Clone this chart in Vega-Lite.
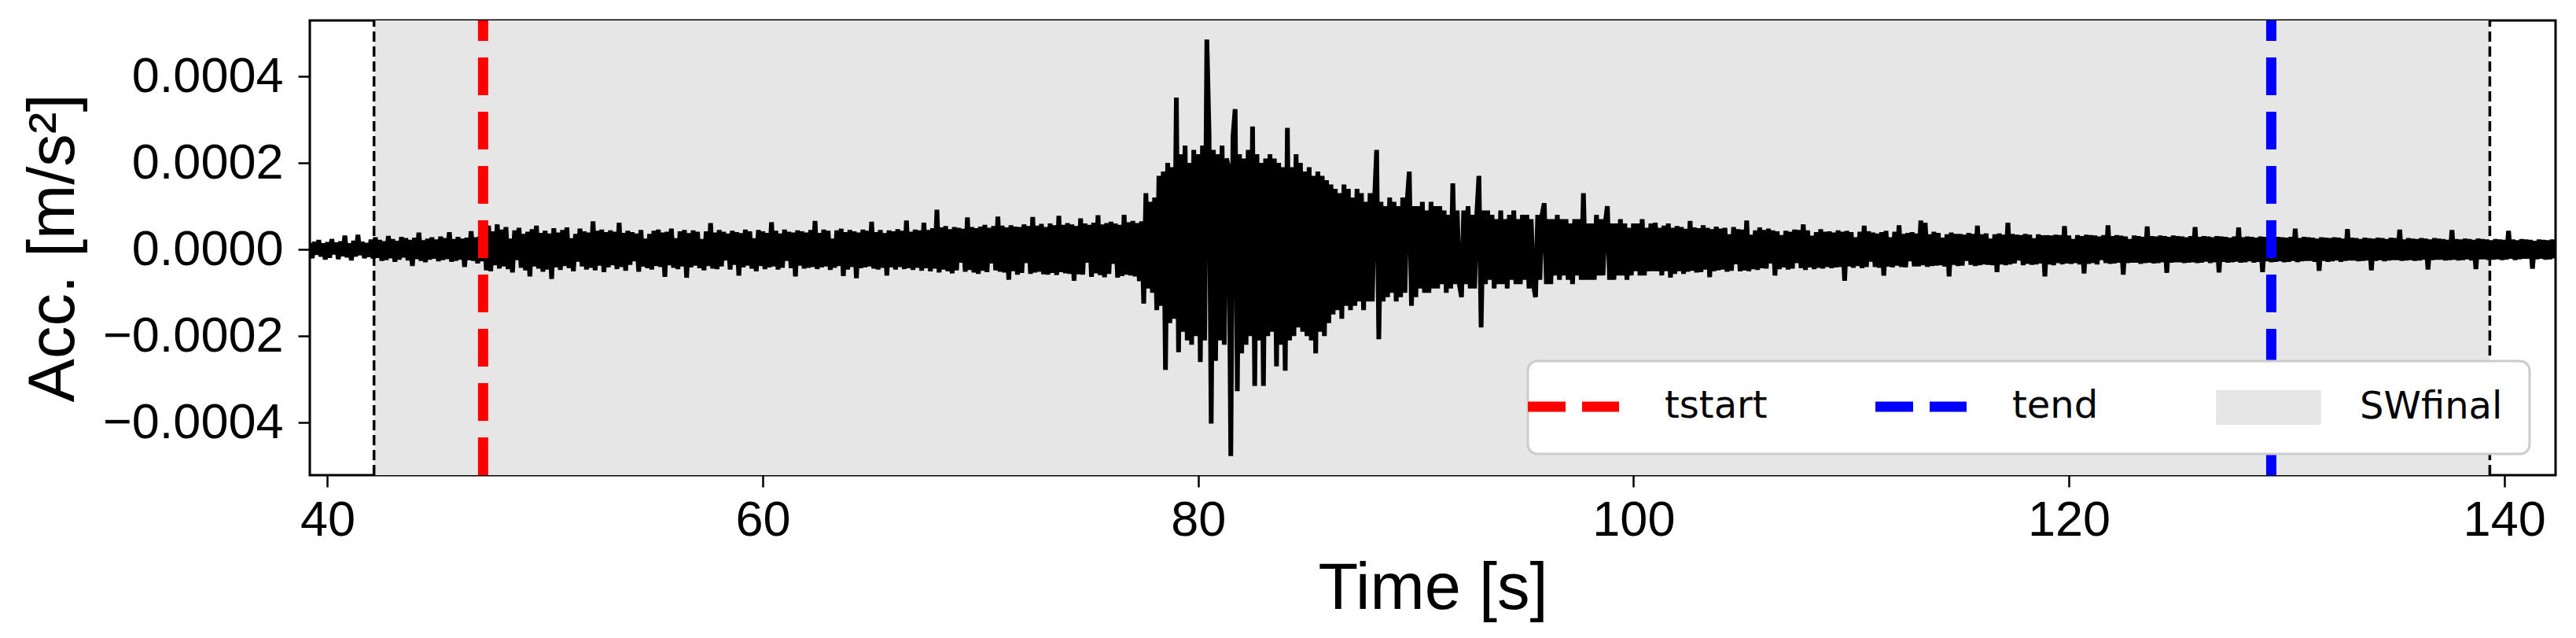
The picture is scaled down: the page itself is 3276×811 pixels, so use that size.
{
"$schema":"https://vega.github.io/schema/vega-lite/v6.json",
"width":2856,"height":578,
"autosize":{"type":"none"},
"padding":{"left":394,"top":26,"right":26,"bottom":207},
"background":"white",
"config":{
 "view":{"stroke":"black","strokeWidth":3},
 "axis":{"grid":false,"domain":false,"tickSize":15,"tickWidth":2.5,"tickColor":"black","labelColor":"black","labelFont":"Liberation Sans","labelFontSize":63,"labelLimit":400,"titleFont":"Liberation Sans","titleFontSize":83,"titleFontWeight":"normal","titleColor":"black","labelFlush":false},
 "axisX":{"labelPadding":11,"titlePadding":14},
 "axisY":{"labelPadding":19,"titleX":-301,"titleY":289,"titleAngle":-90,"titleAlign":"center","titleBaseline":"alphabetic"}
},
"datasets":{
 "span":[{"t":42.14,"t2":139.34,"lab":"SWfinal"}],
 "lines":[{"t":47.15,"lab":"tstart"},{"t":129.3,"lab":"tend"}],
 "wave":[
{"t":39.2,"a":1.5e-5},{"t":39.3,"a":-2e-5},{"t":39.4,"a":1.8e-5},{"t":39.5,"a":-1.2e-5},{"t":39.6,"a":2.2e-5},{"t":39.7,"a":-1.6e-5},{"t":39.8,"a":1.4e-5},{"t":39.9,"a":-2.3e-5},
{"t":40.0,"a":1.7e-5},{"t":40.1,"a":-1.9e-5},{"t":40.2,"a":2.4e-5},{"t":40.3,"a":-1.1e-5},{"t":40.4,"a":1.6e-5},{"t":40.5,"a":-2.2e-5},{"t":40.6,"a":1.9e-5},{"t":40.7,"a":-1.5e-5},{"t":40.8,"a":3.2e-5},{"t":40.9,"a":-1.8e-5},
{"t":41.0,"a":1.4e-5},{"t":41.1,"a":-2.5e-5},{"t":41.2,"a":2e-5},{"t":41.3,"a":-1.6e-5},{"t":41.4,"a":3.4e-5},{"t":41.5,"a":-1.3e-5},{"t":41.6,"a":1.8e-5},{"t":41.7,"a":-2e-5},{"t":41.8,"a":1.5e-5},{"t":41.9,"a":-1.7e-5},
{"t":42.0,"a":2.3e-5},{"t":42.1,"a":-2.1e-5},{"t":42.2,"a":2.8e-5},{"t":42.3,"a":-1.9e-5},{"t":42.4,"a":2.2e-5},{"t":42.5,"a":-2.6e-5},{"t":42.6,"a":1.9e-5},{"t":42.7,"a":-2.4e-5},{"t":42.8,"a":3.1e-5},{"t":42.9,"a":-2e-5},
{"t":43.0,"a":2.4e-5},{"t":43.1,"a":-2.8e-5},{"t":43.2,"a":2e-5},{"t":43.3,"a":-2.3e-5},{"t":43.4,"a":2.9e-5},{"t":43.5,"a":-1.8e-5},{"t":43.6,"a":2.6e-5},{"t":43.7,"a":-2.5e-5},{"t":43.8,"a":2.2e-5},{"t":43.9,"a":-3.8e-5},
{"t":44.0,"a":2.7e-5},{"t":44.1,"a":-2.2e-5},{"t":44.2,"a":3.9e-5},{"t":44.3,"a":-2.6e-5},{"t":44.4,"a":2.1e-5},{"t":44.5,"a":-2.9e-5},{"t":44.6,"a":2.5e-5},{"t":44.7,"a":-2.3e-5},{"t":44.8,"a":2.8e-5},{"t":44.9,"a":-2.1e-5},
{"t":45.0,"a":2.3e-5},{"t":45.1,"a":-2.7e-5},{"t":45.2,"a":3e-5},{"t":45.3,"a":-2.4e-5},{"t":45.4,"a":2.6e-5},{"t":45.5,"a":-2.2e-5},{"t":45.6,"a":4e-5},{"t":45.7,"a":-2.8e-5},{"t":45.8,"a":2.4e-5},{"t":45.9,"a":-2.6e-5},
{"t":46.0,"a":2.9e-5},{"t":46.1,"a":-2.3e-5},{"t":46.2,"a":2.5e-5},{"t":46.3,"a":-4e-5},{"t":46.4,"a":2.7e-5},{"t":46.5,"a":-2.4e-5},{"t":46.6,"a":4.2e-5},{"t":46.7,"a":-2.6e-5},{"t":46.8,"a":2.8e-5},{"t":46.9,"a":-3.2e-5},
{"t":47.0,"a":3e-5},{"t":47.1,"a":-2.7e-5},{"t":47.2,"a":6.2e-5},{"t":47.3,"a":-4.8e-5},{"t":47.4,"a":5.5e-5},{"t":47.5,"a":-5e-5},{"t":47.6,"a":4.2e-5},{"t":47.7,"a":-3.6e-5},{"t":47.8,"a":5.8e-5},{"t":47.9,"a":-4.4e-5},
{"t":48.0,"a":4.6e-5},{"t":48.1,"a":-3.9e-5},{"t":48.2,"a":5.2e-5},{"t":48.3,"a":-4.5e-5},{"t":48.4,"a":2.5e-5},{"t":48.5,"a":-5.3e-5},{"t":48.6,"a":4.4e-5},{"t":48.7,"a":-2.4e-5},{"t":48.8,"a":5e-5},{"t":48.9,"a":-4.2e-5},
{"t":49.0,"a":3.6e-5},{"t":49.1,"a":-4.8e-5},{"t":49.2,"a":4.1e-5},{"t":49.3,"a":-6.2e-5},{"t":49.4,"a":4.7e-5},{"t":49.5,"a":-3.9e-5},{"t":49.6,"a":5.5e-5},{"t":49.7,"a":-4.4e-5},{"t":49.8,"a":3.8e-5},{"t":49.9,"a":-5.1e-5},
{"t":50.0,"a":4.3e-5},{"t":50.1,"a":-4.6e-5},{"t":50.2,"a":3.7e-5},{"t":50.3,"a":-6.8e-5},{"t":50.4,"a":4.9e-5},{"t":50.5,"a":-4.1e-5},{"t":50.6,"a":3.9e-5},{"t":50.7,"a":-4.7e-5},{"t":50.8,"a":4.5e-5},{"t":50.9,"a":-3.8e-5},
{"t":51.0,"a":5.1e-5},{"t":51.1,"a":-4.3e-5},{"t":51.2,"a":2.6e-5},{"t":51.3,"a":-5e-5},{"t":51.4,"a":3.6e-5},{"t":51.5,"a":-2.8e-5},{"t":51.6,"a":4.8e-5},{"t":51.7,"a":-3.9e-5},{"t":51.8,"a":4.2e-5},{"t":51.9,"a":-4.6e-5},
{"t":52.0,"a":3.9e-5},{"t":52.1,"a":-4.2e-5},{"t":52.2,"a":6.5e-5},{"t":52.3,"a":-4.8e-5},{"t":52.4,"a":4.3e-5},{"t":52.5,"a":-3.7e-5},{"t":52.6,"a":4.6e-5},{"t":52.7,"a":-5.2e-5},{"t":52.8,"a":4e-5},{"t":52.9,"a":-4.1e-5},
{"t":53.0,"a":4.4e-5},{"t":53.1,"a":-3.6e-5},{"t":53.2,"a":4.1e-5},{"t":53.3,"a":-4.5e-5},{"t":53.4,"a":6.2e-5},{"t":53.5,"a":-4e-5},{"t":53.6,"a":3.8e-5},{"t":53.7,"a":-4.9e-5},{"t":53.8,"a":4.3e-5},{"t":53.9,"a":-3.5e-5},
{"t":54.0,"a":4e-5},{"t":54.1,"a":-2.7e-5},{"t":54.2,"a":3.7e-5},{"t":54.3,"a":-5.1e-5},{"t":54.4,"a":4.5e-5},{"t":54.5,"a":-3.9e-5},{"t":54.6,"a":2.5e-5},{"t":54.7,"a":-4.3e-5},{"t":54.8,"a":3.6e-5},{"t":54.9,"a":-4.6e-5},
{"t":55.0,"a":4.3e-5},{"t":55.1,"a":-3.8e-5},{"t":55.2,"a":4.6e-5},{"t":55.3,"a":-4e-5},{"t":55.4,"a":3.9e-5},{"t":55.5,"a":-6.3e-5},{"t":55.6,"a":4.1e-5},{"t":55.7,"a":-3.6e-5},{"t":55.8,"a":4.8e-5},{"t":55.9,"a":-4.2e-5},
{"t":56.0,"a":2.6e-5},{"t":56.1,"a":-4.5e-5},{"t":56.2,"a":4.2e-5},{"t":56.3,"a":-3.9e-5},{"t":56.4,"a":4.5e-5},{"t":56.5,"a":-6.5e-5},{"t":56.6,"a":3.8e-5},{"t":56.7,"a":-4.1e-5},{"t":56.8,"a":4.4e-5},{"t":56.9,"a":-3.7e-5},
{"t":57.0,"a":4.1e-5},{"t":57.1,"a":-4.3e-5},{"t":57.2,"a":2.4e-5},{"t":57.3,"a":-4.8e-5},{"t":57.4,"a":4.2e-5},{"t":57.5,"a":-3.8e-5},{"t":57.6,"a":6.1e-5},{"t":57.7,"a":-4.4e-5},{"t":57.8,"a":3.9e-5},{"t":57.9,"a":-4.5e-5},
{"t":58.0,"a":4.5e-5},{"t":58.1,"a":-3.9e-5},{"t":58.2,"a":4.1e-5},{"t":58.3,"a":-2.5e-5},{"t":58.4,"a":3.7e-5},{"t":58.5,"a":-4.6e-5},{"t":58.6,"a":4.3e-5},{"t":58.7,"a":-3.5e-5},{"t":58.8,"a":4e-5},{"t":58.9,"a":-6e-5},
{"t":59.0,"a":3.8e-5},{"t":59.1,"a":-4.1e-5},{"t":59.2,"a":4.6e-5},{"t":59.3,"a":-3.7e-5},{"t":59.4,"a":4.2e-5},{"t":59.5,"a":-4.4e-5},{"t":59.6,"a":2.6e-5},{"t":59.7,"a":-5e-5},{"t":59.8,"a":4.5e-5},{"t":59.9,"a":-3.8e-5},
{"t":60.0,"a":4.2e-5},{"t":60.1,"a":-4.5e-5},{"t":60.2,"a":3.8e-5},{"t":60.3,"a":-4.1e-5},{"t":60.4,"a":6.3e-5},{"t":60.5,"a":-3.9e-5},{"t":60.6,"a":4.3e-5},{"t":60.7,"a":-4.6e-5},{"t":60.8,"a":3.7e-5},{"t":60.9,"a":-4.2e-5},
{"t":61.0,"a":4.6e-5},{"t":61.1,"a":-2.6e-5},{"t":61.2,"a":4.1e-5},{"t":61.3,"a":-4.3e-5},{"t":61.4,"a":3.9e-5},{"t":61.5,"a":-6.2e-5},{"t":61.6,"a":4.4e-5},{"t":61.7,"a":-3.7e-5},{"t":61.8,"a":4.2e-5},{"t":61.9,"a":-4.4e-5},
{"t":62.0,"a":3.9e-5},{"t":62.1,"a":-4.2e-5},{"t":62.2,"a":4.5e-5},{"t":62.3,"a":-4e-5},{"t":62.4,"a":6.6e-5},{"t":62.5,"a":-4.5e-5},{"t":62.6,"a":3.8e-5},{"t":62.7,"a":-4.1e-5},{"t":62.8,"a":4.6e-5},{"t":62.9,"a":-3.9e-5},
{"t":63.0,"a":4.3e-5},{"t":63.1,"a":-4.7e-5},{"t":63.2,"a":2.5e-5},{"t":63.3,"a":-4.2e-5},{"t":63.4,"a":4.4e-5},{"t":63.5,"a":-3.8e-5},{"t":63.6,"a":4.8e-5},{"t":63.7,"a":-6.1e-5},{"t":63.8,"a":4e-5},{"t":63.9,"a":-4.6e-5},
{"t":64.0,"a":4.5e-5},{"t":64.1,"a":-4e-5},{"t":64.2,"a":4.2e-5},{"t":64.3,"a":-6.6e-5},{"t":64.4,"a":3.9e-5},{"t":64.5,"a":-4.3e-5},{"t":64.6,"a":4.6e-5},{"t":64.7,"a":-4.1e-5},{"t":64.8,"a":4.3e-5},{"t":64.9,"a":-3.9e-5},
{"t":65.0,"a":6.4e-5},{"t":65.1,"a":-4.4e-5},{"t":65.2,"a":4e-5},{"t":65.3,"a":-4.6e-5},{"t":65.4,"a":4.5e-5},{"t":65.5,"a":-4.2e-5},{"t":65.6,"a":3.8e-5},{"t":65.7,"a":-6e-5},{"t":65.8,"a":4.4e-5},{"t":65.9,"a":-4.1e-5},
{"t":66.0,"a":4.2e-5},{"t":66.1,"a":-4.6e-5},{"t":66.2,"a":4.7e-5},{"t":66.3,"a":-4e-5},{"t":66.4,"a":4.3e-5},{"t":66.5,"a":-4.5e-5},{"t":66.6,"a":6.7e-5},{"t":66.7,"a":-4.3e-5},{"t":66.8,"a":4.1e-5},{"t":66.9,"a":-4.7e-5},
{"t":67.0,"a":4.6e-5},{"t":67.1,"a":-4.2e-5},{"t":67.2,"a":4.4e-5},{"t":67.3,"a":-4.9e-5},{"t":67.4,"a":6.2e-5},{"t":67.5,"a":-4.3e-5},{"t":67.6,"a":4.5e-5},{"t":67.7,"a":-5e-5},{"t":67.8,"a":4.9e-5},{"t":67.9,"a":-4.4e-5},
{"t":68.0,"a":9.2e-5},{"t":68.1,"a":-5.3e-5},{"t":68.2,"a":5.1e-5},{"t":68.3,"a":-4.6e-5},{"t":68.4,"a":5.4e-5},{"t":68.5,"a":-5e-5},{"t":68.6,"a":4.7e-5},{"t":68.7,"a":-5.5e-5},{"t":68.8,"a":5.2e-5},{"t":68.9,"a":-4.8e-5},
{"t":69.0,"a":5e-5},{"t":69.1,"a":-3e-5},{"t":69.2,"a":4.8e-5},{"t":69.3,"a":-5.1e-5},{"t":69.4,"a":7.4e-5},{"t":69.5,"a":-4.7e-5},{"t":69.6,"a":5.2e-5},{"t":69.7,"a":-5.3e-5},{"t":69.8,"a":4.9e-5},{"t":69.9,"a":-5.6e-5},
{"t":70.0,"a":5.3e-5},{"t":70.1,"a":-4.9e-5},{"t":70.2,"a":5.7e-5},{"t":70.3,"a":-5.2e-5},{"t":70.4,"a":5e-5},{"t":70.5,"a":-3.2e-5},{"t":70.6,"a":5.4e-5},{"t":70.7,"a":-4.8e-5},{"t":70.8,"a":7.6e-5},{"t":70.9,"a":-5.1e-5},
{"t":71.0,"a":5.5e-5},{"t":71.1,"a":-5.3e-5},{"t":71.2,"a":5.1e-5},{"t":71.3,"a":-7e-5},{"t":71.4,"a":5.6e-5},{"t":71.5,"a":-5e-5},{"t":71.6,"a":5.3e-5},{"t":71.7,"a":-5.8e-5},{"t":71.8,"a":5.2e-5},{"t":71.9,"a":-5.4e-5},
{"t":72.0,"a":5.8e-5},{"t":72.1,"a":-3.1e-5},{"t":72.2,"a":5.4e-5},{"t":72.3,"a":-5.6e-5},{"t":72.4,"a":7.5e-5},{"t":72.5,"a":-5.3e-5},{"t":72.6,"a":5.5e-5},{"t":72.7,"a":-5.1e-5},{"t":72.8,"a":5.9e-5},{"t":72.9,"a":-5.7e-5},
{"t":73.0,"a":5.2e-5},{"t":73.1,"a":-5.8e-5},{"t":73.2,"a":6e-5},{"t":73.3,"a":-5.4e-5},{"t":73.4,"a":5.6e-5},{"t":73.5,"a":-5.9e-5},{"t":73.6,"a":7.8e-5},{"t":73.7,"a":-5.2e-5},{"t":73.8,"a":5.7e-5},{"t":73.9,"a":-5.5e-5},
{"t":74.0,"a":6.1e-5},{"t":74.1,"a":-5.6e-5},{"t":74.2,"a":5.8e-5},{"t":74.3,"a":-7.2e-5},{"t":74.4,"a":5.4e-5},{"t":74.5,"a":-5.7e-5},{"t":74.6,"a":7.2e-5},{"t":74.7,"a":-5.8e-5},{"t":74.8,"a":6e-5},{"t":74.9,"a":-3e-5},
{"t":75.0,"a":5.7e-5},{"t":75.1,"a":-6.3e-5},{"t":75.2,"a":6.2e-5},{"t":75.3,"a":-5.5e-5},{"t":75.4,"a":7.9e-5},{"t":75.5,"a":-5.9e-5},{"t":75.6,"a":5.8e-5},{"t":75.7,"a":-6.4e-5},{"t":75.8,"a":6.1e-5},{"t":75.9,"a":-5.6e-5},
{"t":76.0,"a":6.4e-5},{"t":76.1,"a":-3.3e-5},{"t":76.2,"a":6e-5},{"t":76.3,"a":-6.5e-5},{"t":76.4,"a":5.7e-5},{"t":76.5,"a":-6.1e-5},{"t":76.6,"a":8e-5},{"t":76.7,"a":-5.8e-5},{"t":76.8,"a":6.3e-5},{"t":76.9,"a":-6e-5},
{"t":77.0,"a":6.6e-5},{"t":77.1,"a":-6.2e-5},{"t":77.2,"a":6.1e-5},{"t":77.3,"a":-7.3e-5},{"t":77.4,"a":6.5e-5},{"t":77.5,"a":-12.5e-5},{"t":77.6,"a":13e-5},{"t":77.7,"a":-9e-5},{"t":77.8,"a":11e-5},{"t":77.9,"a":-10e-5},
{"t":78.0,"a":12e-5},{"t":78.1,"a":-14e-5},{"t":78.2,"a":17e-5},{"t":78.3,"a":-13e-5},{"t":78.4,"a":18e-5},{"t":78.5,"a":-27.8e-5},{"t":78.6,"a":20e-5},{"t":78.7,"a":-17e-5},{"t":78.8,"a":19e-5},{"t":78.9,"a":-16e-5},
{"t":79.0,"a":35.1e-5},{"t":79.1,"a":-23.7e-5},{"t":79.2,"a":22e-5},{"t":79.3,"a":-19e-5},{"t":79.4,"a":24e-5},{"t":79.5,"a":-21e-5},{"t":79.6,"a":20e-5},{"t":79.7,"a":-22e-5},{"t":79.8,"a":23e-5},{"t":79.9,"a":-20e-5},
{"t":80.0,"a":22e-5},{"t":80.1,"a":-26e-5},{"t":80.2,"a":24e-5},{"t":80.3,"a":-21e-5},{"t":80.4,"a":48.5e-5},{"t":80.5,"a":27e-5},{"t":80.6,"a":-40.2e-5},{"t":80.7,"a":23e-5},{"t":80.8,"a":-25.7e-5},{"t":80.9,"a":22e-5},
{"t":81.0,"a":-21e-5},{"t":81.1,"a":24e-5},{"t":81.2,"a":-22e-5},{"t":81.3,"a":21e-5},{"t":81.4,"a":19e-5},{"t":81.5,"a":-47.7e-5},{"t":81.6,"a":26e-5},{"t":81.7,"a":32.4e-5},{"t":81.8,"a":-32.7e-5},{"t":81.9,"a":22e-5},
{"t":82.0,"a":-24e-5},{"t":82.1,"a":21e-5},{"t":82.2,"a":-22e-5},{"t":82.3,"a":23e-5},{"t":82.4,"a":-20e-5},{"t":82.5,"a":28.4e-5},{"t":82.6,"a":-31.5e-5},{"t":82.7,"a":22e-5},{"t":82.8,"a":-21e-5},{"t":82.9,"a":20e-5},
{"t":83.0,"a":-31.5e-5},{"t":83.1,"a":21e-5},{"t":83.2,"a":-20e-5},{"t":83.3,"a":22e-5},{"t":83.4,"a":-19e-5},{"t":83.5,"a":21e-5},{"t":83.6,"a":-27e-5},{"t":83.7,"a":20e-5},{"t":83.8,"a":-22e-5},{"t":83.9,"a":19e-5},
{"t":84.0,"a":-28e-5},{"t":84.1,"a":28.1e-5},{"t":84.2,"a":-21e-5},{"t":84.3,"a":19e-5},{"t":84.4,"a":-20e-5},{"t":84.5,"a":22e-5},{"t":84.6,"a":-18e-5},{"t":84.7,"a":20e-5},{"t":84.8,"a":-19e-5},{"t":84.9,"a":18e-5},
{"t":85.0,"a":-20e-5},{"t":85.1,"a":19e-5},{"t":85.2,"a":-21e-5},{"t":85.3,"a":17e-5},{"t":85.4,"a":-24e-5},{"t":85.5,"a":18e-5},{"t":85.6,"a":-19e-5},{"t":85.7,"a":17e-5},{"t":85.8,"a":-20e-5},{"t":85.9,"a":16e-5},
{"t":86.0,"a":-17e-5},{"t":86.1,"a":15e-5},{"t":86.2,"a":-15e-5},{"t":86.3,"a":14e-5},{"t":86.4,"a":-14e-5},{"t":86.5,"a":13e-5},{"t":86.6,"a":-16e-5},{"t":86.7,"a":15e-5},{"t":86.8,"a":-13e-5},{"t":86.9,"a":14e-5},
{"t":87.0,"a":-14e-5},{"t":87.1,"a":12e-5},{"t":87.2,"a":-13e-5},{"t":87.3,"a":14e-5},{"t":87.4,"a":-12e-5},{"t":87.5,"a":13e-5},{"t":87.6,"a":-14e-5},{"t":87.7,"a":11e-5},{"t":87.8,"a":-12e-5},{"t":87.9,"a":13e-5},
{"t":88.0,"a":-12e-5},{"t":88.1,"a":11e-5},{"t":88.2,"a":23e-5},{"t":88.3,"a":-20.7e-5},{"t":88.4,"a":11e-5},{"t":88.5,"a":-12e-5},{"t":88.6,"a":10e-5},{"t":88.7,"a":-11e-5},{"t":88.8,"a":12e-5},{"t":88.9,"a":-10e-5},
{"t":89.0,"a":11e-5},{"t":89.1,"a":-12e-5},{"t":89.2,"a":10e-5},{"t":89.3,"a":-11e-5},{"t":89.4,"a":12e-5},{"t":89.5,"a":-10e-5},{"t":89.6,"a":11e-5},{"t":89.7,"a":18e-5},{"t":89.8,"a":-13e-5},{"t":89.9,"a":10e-5},
{"t":90.0,"a":-11e-5},{"t":90.1,"a":10e-5},{"t":90.2,"a":-9e-5},{"t":90.3,"a":11e-5},{"t":90.4,"a":-10e-5},{"t":90.5,"a":9e-5},{"t":90.6,"a":-10e-5},{"t":90.7,"a":11e-5},{"t":90.8,"a":-9e-5},{"t":90.9,"a":10e-5},
{"t":91.0,"a":-9e-5},{"t":91.1,"a":10e-5},{"t":91.2,"a":-8e-5},{"t":91.3,"a":9e-5},{"t":91.4,"a":-10e-5},{"t":91.5,"a":8e-5},{"t":91.6,"a":-9e-5},{"t":91.7,"a":15.3e-5},{"t":91.8,"a":-8e-5},{"t":91.9,"a":9e-5},
{"t":92.0,"a":-8e-5},{"t":92.1,"a":-11e-5},{"t":92.2,"a":9e-5},{"t":92.3,"a":-8e-5},{"t":92.4,"a":10e-5},{"t":92.5,"a":-9e-5},{"t":92.6,"a":8e-5},{"t":92.7,"a":-9e-5},{"t":92.8,"a":8e-5},{"t":92.9,"a":17e-5},
{"t":93.0,"a":-18e-5},{"t":93.1,"a":9e-5},{"t":93.2,"a":-8e-5},{"t":93.3,"a":9e-5},{"t":93.4,"a":-7e-5},{"t":93.5,"a":8e-5},{"t":93.6,"a":-9e-5},{"t":93.7,"a":7e-5},{"t":93.8,"a":-8e-5},{"t":93.9,"a":9e-5},
{"t":94.0,"a":-8e-5},{"t":94.1,"a":7e-5},{"t":94.2,"a":-9e-5},{"t":94.3,"a":8e-5},{"t":94.4,"a":-7e-5},{"t":94.5,"a":9e-5},{"t":94.6,"a":-8e-5},{"t":94.7,"a":7e-5},{"t":94.8,"a":-8e-5},{"t":94.9,"a":8e-5},
{"t":95.0,"a":-7e-5},{"t":95.1,"a":8e-5},{"t":95.2,"a":-9e-5},{"t":95.3,"a":7e-5},{"t":95.4,"a":-8e-5},{"t":95.5,"a":-11e-5},{"t":95.6,"a":8e-5},{"t":95.7,"a":-7e-5},{"t":95.8,"a":8e-5},{"t":95.9,"a":10.7e-5},
{"t":96.0,"a":-8e-5},{"t":96.1,"a":7e-5},{"t":96.2,"a":-8e-5},{"t":96.3,"a":7e-5},{"t":96.4,"a":-6e-5},{"t":96.5,"a":8e-5},{"t":96.6,"a":-7e-5},{"t":96.7,"a":7e-5},{"t":96.8,"a":-6e-5},{"t":96.9,"a":7e-5},
{"t":97.0,"a":-7e-5},{"t":97.1,"a":6e-5},{"t":97.2,"a":-8e-5},{"t":97.3,"a":7e-5},{"t":97.4,"a":-6e-5},{"t":97.5,"a":7e-5},{"t":97.6,"a":-7e-5},{"t":97.7,"a":13e-5},{"t":97.8,"a":-7e-5},{"t":97.9,"a":6e-5},
{"t":98.0,"a":-7e-5},{"t":98.1,"a":6e-5},{"t":98.2,"a":-7e-5},{"t":98.3,"a":8e-5},{"t":98.4,"a":-6e-5},{"t":98.5,"a":7e-5},{"t":98.6,"a":-6e-5},{"t":98.7,"a":6e-5},{"t":98.8,"a":10e-5},{"t":98.9,"a":-7e-5},
{"t":99.0,"a":6e-5},{"t":99.1,"a":-7e-5},{"t":99.2,"a":6e-5},{"t":99.3,"a":-6e-5},{"t":99.4,"a":7e-5},{"t":99.5,"a":-6e-5},{"t":99.6,"a":6e-5},{"t":99.7,"a":-7e-5},{"t":99.8,"a":5e-5},{"t":99.9,"a":-6e-5},
{"t":100.0,"a":6e-5},{"t":100.1,"a":-5e-5},{"t":100.2,"a":6e-5},{"t":100.3,"a":-6e-5},{"t":100.4,"a":7e-5},{"t":100.5,"a":-6e-5},{"t":100.6,"a":5e-5},{"t":100.7,"a":-5e-5},{"t":100.8,"a":6e-5},{"t":100.9,"a":-5e-5},
{"t":101.0,"a":6.2e-5},{"t":101.1,"a":-5e-5},{"t":101.2,"a":5e-5},{"t":101.3,"a":-6e-5},{"t":101.4,"a":5.5e-5},{"t":101.5,"a":-5e-5},{"t":101.6,"a":6e-5},{"t":101.7,"a":-6.5e-5},{"t":101.8,"a":5e-5},{"t":101.9,"a":-5.6e-5},
{"t":102.0,"a":5.4e-5},{"t":102.1,"a":-5e-5},{"t":102.2,"a":5.2e-5},{"t":102.3,"a":-5.6e-5},{"t":102.4,"a":4.8e-5},{"t":102.5,"a":-5.1e-5},{"t":102.6,"a":6.6e-5},{"t":102.7,"a":-4.9e-5},{"t":102.8,"a":5.1e-5},{"t":102.9,"a":-5.3e-5},
{"t":103.0,"a":4.9e-5},{"t":103.1,"a":-5.2e-5},{"t":103.2,"a":5.6e-5},{"t":103.3,"a":-4.6e-5},{"t":103.4,"a":5e-5},{"t":103.5,"a":-6.4e-5},{"t":103.6,"a":4.7e-5},{"t":103.7,"a":-5e-5},{"t":103.8,"a":5.3e-5},{"t":103.9,"a":-4.8e-5},
{"t":104.0,"a":4.8e-5},{"t":104.1,"a":-4.6e-5},{"t":104.2,"a":5e-5},{"t":104.3,"a":-5.1e-5},{"t":104.4,"a":3.5e-5},{"t":104.5,"a":-4.9e-5},{"t":104.6,"a":5.2e-5},{"t":104.7,"a":-3.4e-5},{"t":104.8,"a":4.7e-5},{"t":104.9,"a":-5e-5},
{"t":105.0,"a":4.6e-5},{"t":105.1,"a":-4.8e-5},{"t":105.2,"a":6.7e-5},{"t":105.3,"a":-5e-5},{"t":105.4,"a":3.4e-5},{"t":105.5,"a":-4.5e-5},{"t":105.6,"a":4.4e-5},{"t":105.7,"a":-4.7e-5},{"t":105.8,"a":5.1e-5},{"t":105.9,"a":-4.3e-5},
{"t":106.0,"a":4.5e-5},{"t":106.1,"a":-4.4e-5},{"t":106.2,"a":4.8e-5},{"t":106.3,"a":-3.2e-5},{"t":106.4,"a":4.4e-5},{"t":106.5,"a":-6e-5},{"t":106.6,"a":4.2e-5},{"t":106.7,"a":-4.5e-5},{"t":106.8,"a":3.3e-5},{"t":106.9,"a":-4.1e-5},
{"t":107.0,"a":4.3e-5},{"t":107.1,"a":-4.6e-5},{"t":107.2,"a":4.1e-5},{"t":107.3,"a":-4.4e-5},{"t":107.4,"a":4.6e-5},{"t":107.5,"a":-3.1e-5},{"t":107.6,"a":4.5e-5},{"t":107.7,"a":-4.3e-5},{"t":107.8,"a":5.8e-5},{"t":107.9,"a":-4.7e-5},
{"t":108.0,"a":4.4e-5},{"t":108.1,"a":-4.1e-5},{"t":108.2,"a":3.2e-5},{"t":108.3,"a":-4.5e-5},{"t":108.4,"a":4e-5},{"t":108.5,"a":-4.2e-5},{"t":108.6,"a":4.7e-5},{"t":108.7,"a":-4.4e-5},{"t":108.8,"a":4.1e-5},{"t":108.9,"a":-4e-5},
{"t":109.0,"a":4.2e-5},{"t":109.1,"a":-4.3e-5},{"t":109.2,"a":3.9e-5},{"t":109.3,"a":-4.1e-5},{"t":109.4,"a":4.4e-5},{"t":109.5,"a":-4e-5},{"t":109.6,"a":4.1e-5},{"t":109.7,"a":-7.2e-5},{"t":109.8,"a":4.3e-5},{"t":109.9,"a":-3.9e-5},
{"t":110.0,"a":4e-5},{"t":110.1,"a":-4.2e-5},{"t":110.2,"a":2.8e-5},{"t":110.3,"a":-3.8e-5},{"t":110.4,"a":4.1e-5},{"t":110.5,"a":-4.3e-5},{"t":110.6,"a":5.5e-5},{"t":110.7,"a":-4e-5},{"t":110.8,"a":4.2e-5},{"t":110.9,"a":-2.8e-5},
{"t":111.0,"a":3.9e-5},{"t":111.1,"a":-4e-5},{"t":111.2,"a":3.7e-5},{"t":111.3,"a":-4.2e-5},{"t":111.4,"a":4e-5},{"t":111.5,"a":-6e-5},{"t":111.6,"a":4.3e-5},{"t":111.7,"a":-3.9e-5},{"t":111.8,"a":2.8e-5},{"t":111.9,"a":-4.1e-5},
{"t":112.0,"a":4.1e-5},{"t":112.1,"a":-3.7e-5},{"t":112.2,"a":5.6e-5},{"t":112.3,"a":-4e-5},{"t":112.4,"a":3.6e-5},{"t":112.5,"a":-4.1e-5},{"t":112.6,"a":3.8e-5},{"t":112.7,"a":-2.7e-5},{"t":112.8,"a":4e-5},{"t":112.9,"a":-3.9e-5},
{"t":113.0,"a":3.7e-5},{"t":113.1,"a":-3.9e-5},{"t":113.2,"a":6.7e-5},{"t":113.3,"a":-3.6e-5},{"t":113.4,"a":6.2e-5},{"t":113.5,"a":-4e-5},{"t":113.6,"a":3.5e-5},{"t":113.7,"a":-3.8e-5},{"t":113.8,"a":4.1e-5},{"t":113.9,"a":-3.7e-5},
{"t":114.0,"a":3.8e-5},{"t":114.1,"a":-3.6e-5},{"t":114.2,"a":2.7e-5},{"t":114.3,"a":-3.9e-5},{"t":114.4,"a":3.5e-5},{"t":114.5,"a":-6.2e-5},{"t":114.6,"a":3.9e-5},{"t":114.7,"a":-3.5e-5},{"t":114.8,"a":3.6e-5},{"t":114.9,"a":-3.8e-5},
{"t":115.0,"a":3.6e-5},{"t":115.1,"a":-3.7e-5},{"t":115.2,"a":3.4e-5},{"t":115.3,"a":-2.6e-5},{"t":115.4,"a":3.8e-5},{"t":115.5,"a":-3.5e-5},{"t":115.6,"a":3.6e-5},{"t":115.7,"a":-3.8e-5},{"t":115.8,"a":5.5e-5},{"t":115.9,"a":-3.6e-5},
{"t":116.0,"a":3.5e-5},{"t":116.1,"a":-3.4e-5},{"t":116.2,"a":3.7e-5},{"t":116.3,"a":-3.5e-5},{"t":116.4,"a":2.5e-5},{"t":116.5,"a":-3.6e-5},{"t":116.6,"a":3.5e-5},{"t":116.7,"a":-5.2e-5},{"t":116.8,"a":3.7e-5},{"t":116.9,"a":-3.4e-5},
{"t":117.0,"a":3.4e-5},{"t":117.1,"a":-3.6e-5},{"t":117.2,"a":6.2e-5},{"t":117.3,"a":-3.4e-5},{"t":117.4,"a":3.6e-5},{"t":117.5,"a":-3.2e-5},{"t":117.6,"a":3.4e-5},{"t":117.7,"a":-2.5e-5},{"t":117.8,"a":3.3e-5},{"t":117.9,"a":-3.6e-5},
{"t":118.0,"a":3.6e-5},{"t":118.1,"a":-3.3e-5},{"t":118.2,"a":3.4e-5},{"t":118.3,"a":-3.5e-5},{"t":118.4,"a":2.6e-5},{"t":118.5,"a":-3.4e-5},{"t":118.6,"a":3.5e-5},{"t":118.7,"a":-3.2e-5},{"t":118.8,"a":3.3e-5},{"t":118.9,"a":-6.2e-5},
{"t":119.0,"a":3.3e-5},{"t":119.1,"a":-3.4e-5},{"t":119.2,"a":3.2e-5},{"t":119.3,"a":-3.6e-5},{"t":119.4,"a":3.4e-5},{"t":119.5,"a":-3.1e-5},{"t":119.6,"a":3.3e-5},{"t":119.7,"a":-3.4e-5},{"t":119.8,"a":5.4e-5},{"t":119.9,"a":-3.2e-5},
{"t":120.0,"a":3.2e-5},{"t":120.1,"a":-3.3e-5},{"t":120.2,"a":2.4e-5},{"t":120.3,"a":-3.1e-5},{"t":120.4,"a":3.3e-5},{"t":120.5,"a":-3.4e-5},{"t":120.6,"a":3.1e-5},{"t":120.7,"a":-5.5e-5},{"t":120.8,"a":3.4e-5},{"t":120.9,"a":-3.3e-5},
{"t":121.0,"a":3.3e-5},{"t":121.1,"a":-3.1e-5},{"t":121.2,"a":3.2e-5},{"t":121.3,"a":-3.4e-5},{"t":121.4,"a":3e-5},{"t":121.5,"a":-2.4e-5},{"t":121.6,"a":3.3e-5},{"t":121.7,"a":-3.1e-5},{"t":121.8,"a":5.6e-5},{"t":121.9,"a":-3.3e-5},
{"t":122.0,"a":3.1e-5},{"t":122.1,"a":-3.2e-5},{"t":122.2,"a":3.3e-5},{"t":122.3,"a":-3e-5},{"t":122.4,"a":3.2e-5},{"t":122.5,"a":-5.8e-5},{"t":122.6,"a":3e-5},{"t":122.7,"a":-3.1e-5},{"t":122.8,"a":2.4e-5},{"t":122.9,"a":-3e-5},
{"t":123.0,"a":3.2e-5},{"t":123.1,"a":-3e-5},{"t":123.2,"a":3.1e-5},{"t":123.3,"a":-3.3e-5},{"t":123.4,"a":2.9e-5},{"t":123.5,"a":-3.1e-5},{"t":123.6,"a":5.3e-5},{"t":123.7,"a":-3e-5},{"t":123.8,"a":3.1e-5},{"t":123.9,"a":-3.2e-5},
{"t":124.0,"a":3e-5},{"t":124.1,"a":-3.1e-5},{"t":124.2,"a":3.2e-5},{"t":124.3,"a":-2.9e-5},{"t":124.4,"a":3.1e-5},{"t":124.5,"a":-5.4e-5},{"t":124.6,"a":2.9e-5},{"t":124.7,"a":-3e-5},{"t":124.8,"a":3.2e-5},{"t":124.9,"a":-2.9e-5},
{"t":125.0,"a":3.1e-5},{"t":125.1,"a":-2.9e-5},{"t":125.2,"a":3e-5},{"t":125.3,"a":-3.1e-5},{"t":125.4,"a":2.8e-5},{"t":125.5,"a":-3e-5},{"t":125.6,"a":3.1e-5},{"t":125.7,"a":-2.9e-5},{"t":125.8,"a":5.2e-5},{"t":125.9,"a":-3.1e-5},
{"t":126.0,"a":2.9e-5},{"t":126.1,"a":-3e-5},{"t":126.2,"a":3.1e-5},{"t":126.3,"a":-2.8e-5},{"t":126.4,"a":3e-5},{"t":126.5,"a":-3.1e-5},{"t":126.6,"a":2.8e-5},{"t":126.7,"a":-2.9e-5},{"t":126.8,"a":3.1e-5},{"t":126.9,"a":-5.3e-5},
{"t":127.0,"a":3e-5},{"t":127.1,"a":-2.8e-5},{"t":127.2,"a":2.9e-5},{"t":127.3,"a":-3e-5},{"t":127.4,"a":2.7e-5},{"t":127.5,"a":-2.9e-5},{"t":127.6,"a":3e-5},{"t":127.7,"a":-2.8e-5},{"t":127.8,"a":5.1e-5},{"t":127.9,"a":-3e-5},
{"t":128.0,"a":2.8e-5},{"t":128.1,"a":-2.9e-5},{"t":128.2,"a":3e-5},{"t":128.3,"a":-2.7e-5},{"t":128.4,"a":2.9e-5},{"t":128.5,"a":-3e-5},{"t":128.6,"a":2.7e-5},{"t":128.7,"a":-2.8e-5},{"t":128.8,"a":3e-5},{"t":128.9,"a":-5.2e-5},
{"t":129.0,"a":2.9e-5},{"t":129.1,"a":-2.7e-5},{"t":129.2,"a":2.8e-5},{"t":129.3,"a":-2.9e-5},{"t":129.4,"a":2.6e-5},{"t":129.5,"a":-2.8e-5},{"t":129.6,"a":2.9e-5},{"t":129.7,"a":-2.7e-5},{"t":129.8,"a":2.8e-5},{"t":129.9,"a":-2.9e-5},
{"t":130.0,"a":2.7e-5},{"t":130.1,"a":-2.8e-5},{"t":130.2,"a":2.9e-5},{"t":130.3,"a":-2.6e-5},{"t":130.4,"a":4.8e-5},{"t":130.5,"a":-2.9e-5},{"t":130.6,"a":2.6e-5},{"t":130.7,"a":-2.7e-5},{"t":130.8,"a":2.9e-5},{"t":130.9,"a":-2.6e-5},
{"t":131.0,"a":2.8e-5},{"t":131.1,"a":-2.6e-5},{"t":131.2,"a":2.7e-5},{"t":131.3,"a":-2.8e-5},{"t":131.4,"a":2.5e-5},{"t":131.5,"a":-4.9e-5},{"t":131.6,"a":2.8e-5},{"t":131.7,"a":-2.6e-5},{"t":131.8,"a":2.7e-5},{"t":131.9,"a":-2.8e-5},
{"t":132.0,"a":2.6e-5},{"t":132.1,"a":-2.7e-5},{"t":132.2,"a":2.8e-5},{"t":132.3,"a":-2.5e-5},{"t":132.4,"a":2.7e-5},{"t":132.5,"a":-2.8e-5},{"t":132.6,"a":2.5e-5},{"t":132.7,"a":-2.6e-5},{"t":132.8,"a":4.7e-5},{"t":132.9,"a":-2.5e-5},
{"t":133.0,"a":2.7e-5},{"t":133.1,"a":-2.5e-5},{"t":133.2,"a":2.6e-5},{"t":133.3,"a":-2.7e-5},{"t":133.4,"a":2.4e-5},{"t":133.5,"a":-2.6e-5},{"t":133.6,"a":2.7e-5},{"t":133.7,"a":-2.5e-5},{"t":133.8,"a":2.6e-5},{"t":133.9,"a":-4.8e-5},
{"t":134.0,"a":2.5e-5},{"t":134.1,"a":-2.6e-5},{"t":134.2,"a":2.7e-5},{"t":134.3,"a":-2.4e-5},{"t":134.4,"a":2.6e-5},{"t":134.5,"a":-2.7e-5},{"t":134.6,"a":2.4e-5},{"t":134.7,"a":-2.5e-5},{"t":134.8,"a":2.7e-5},{"t":134.9,"a":-2.4e-5},
{"t":135.0,"a":2.6e-5},{"t":135.1,"a":-2.4e-5},{"t":135.2,"a":4.6e-5},{"t":135.3,"a":-2.6e-5},{"t":135.4,"a":2.3e-5},{"t":135.5,"a":-2.5e-5},{"t":135.6,"a":2.6e-5},{"t":135.7,"a":-2.4e-5},{"t":135.8,"a":2.5e-5},{"t":135.9,"a":-2.6e-5},
{"t":136.0,"a":2.4e-5},{"t":136.1,"a":-2.5e-5},{"t":136.2,"a":2.6e-5},{"t":136.3,"a":-2.3e-5},{"t":136.4,"a":2.5e-5},{"t":136.5,"a":-4.6e-5},{"t":136.6,"a":2.3e-5},{"t":136.7,"a":-2.4e-5},{"t":136.8,"a":2.6e-5},{"t":136.9,"a":-2.3e-5},
{"t":137.0,"a":2.5e-5},{"t":137.1,"a":-2.3e-5},{"t":137.2,"a":2.4e-5},{"t":137.3,"a":-2.5e-5},{"t":137.4,"a":2.2e-5},{"t":137.5,"a":-2.4e-5},{"t":137.6,"a":4.5e-5},{"t":137.7,"a":-2.3e-5},{"t":137.8,"a":2.4e-5},{"t":137.9,"a":-2.5e-5},
{"t":138.0,"a":2.3e-5},{"t":138.1,"a":-2.4e-5},{"t":138.2,"a":2.5e-5},{"t":138.3,"a":-2.2e-5},{"t":138.4,"a":2.4e-5},{"t":138.5,"a":-2.5e-5},{"t":138.6,"a":2.2e-5},{"t":138.7,"a":-4.5e-5},{"t":138.8,"a":2.5e-5},{"t":138.9,"a":-2.2e-5},
{"t":139.0,"a":2.4e-5},{"t":139.1,"a":-2.2e-5},{"t":139.2,"a":2.3e-5},{"t":139.3,"a":-2.4e-5},{"t":139.4,"a":2.1e-5},{"t":139.5,"a":-2.3e-5},{"t":139.6,"a":2.4e-5},{"t":139.7,"a":-2.2e-5},{"t":139.8,"a":2.3e-5},{"t":139.9,"a":-2.4e-5},
{"t":140.0,"a":2.2e-5},{"t":140.1,"a":-2.3e-5},{"t":140.2,"a":4.3e-5},{"t":140.3,"a":-2.1e-5},{"t":140.4,"a":2.3e-5},{"t":140.5,"a":-2.4e-5},{"t":140.6,"a":2.1e-5},{"t":140.7,"a":-2.2e-5},{"t":140.8,"a":2.4e-5},{"t":140.9,"a":-2.1e-5},
{"t":141.0,"a":2.3e-5},{"t":141.1,"a":-2.1e-5},{"t":141.2,"a":2.2e-5},{"t":141.3,"a":-4.4e-5},{"t":141.4,"a":2e-5},{"t":141.5,"a":-2.2e-5},{"t":141.6,"a":2.3e-5},{"t":141.7,"a":-2.1e-5},{"t":141.8,"a":2.2e-5},{"t":141.9,"a":-2.3e-5},
{"t":142.0,"a":2.1e-5},{"t":142.1,"a":-2.2e-5},{"t":142.2,"a":2.3e-5},{"t":142.3,"a":-2e-5},{"t":142.4,"a":2.2e-5}
 ]
},
"layer":[
 {"data":{"name":"span"},
  "mark":{"type":"rect"},
  "encoding":{
   "x":{"field":"t","type":"quantitative","title":"Time [s]","scale":{"domain":[39.19,142.36],"nice":false,"zero":false},"axis":{"values":[40,60,80,100,120,140]}},
   "x2":{"field":"t2"},
   "color":{"field":"lab","type":"nominal","scale":{"domain":["tstart","tend","SWfinal"],"range":["#ff0000","#0000ff","#e6e6e6"]},
    "legend":{"title":null,"orient":"none","legendX":1549,"legendY":433,"direction":"horizontal","columns":3,"gridAlign":"all",
     "labelFont":"DejaVu Sans","labelFontSize":48,"labelColor":"black","labelOffset":92,"labelLimit":400,"columnPadding":60,
     "padding":34,"fillColor":"white","strokeColor":"#cccccc","cornerRadius":12,
     "symbolType":"stroke","symbolSize":13456,"symbolStrokeWidth":13,"symbolDash":[48,21],
     "encode":{
      "legend":{"update":{"strokeWidth":{"value":3}}},
      "symbols":{"update":{
       "shape":{"signal":"datum.value === 'SWfinal' ? 'M-1.15,-0.38H1.15V0.38H-1.15Z' : 'stroke'"},
       "strokeWidth":{"signal":"datum.value === 'SWfinal' ? 0 : 13"},
       "fill":{"signal":"datum.value === 'SWfinal' ? '#e6e6e6' : 'transparent'"},
       "stroke":{"signal":"scale('color', datum.value)"},
       "opacity":{"value":1},"fillOpacity":{"value":1},"strokeOpacity":{"value":1}}}}}}
  }},
 {"data":{"name":"span"},
  "mark":{"type":"rule","color":"black","strokeWidth":3.5,"strokeDash":[13,6]},
  "encoding":{"x":{"field":"t","type":"quantitative","title":"Time [s]"},"y":{"datum":-0.000521},"y2":{"datum":0.000529}}},
 {"data":{"name":"span"},
  "mark":{"type":"rule","color":"black","strokeWidth":3.5,"strokeDash":[13,6]},
  "encoding":{"x":{"field":"t2","type":"quantitative","title":"Time [s]"},"y":{"datum":-0.000521},"y2":{"datum":0.000529}}},
 {"data":{"name":"wave"},
  "mark":{"type":"line","color":"black","strokeWidth":6,"clip":true},
  "encoding":{
   "x":{"field":"t","type":"quantitative","title":"Time [s]"},
   "y":{"field":"a","type":"quantitative","title":"Acc. [m/s²]","scale":{"domain":[-0.000521,0.000529],"nice":false,"zero":false},"axis":{"values":[-0.0004,-0.0002,0,0.0002,0.0004],"format":".4f"}}
  }},
 {"data":{"name":"lines"},
  "mark":{"type":"rule","strokeWidth":13,"strokeDash":[48,21]},
  "encoding":{"x":{"field":"t","type":"quantitative","title":"Time [s]"},"y":{"datum":-0.000521},"y2":{"datum":0.000529},
   "color":{"field":"lab","type":"nominal"}}}
]
}
